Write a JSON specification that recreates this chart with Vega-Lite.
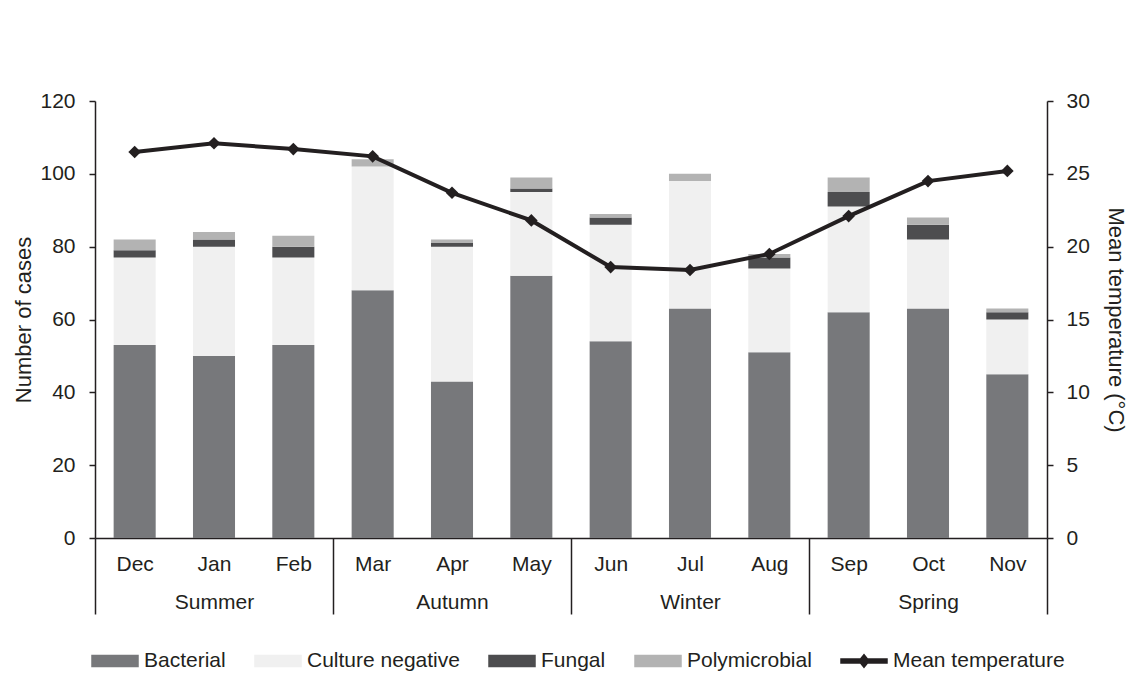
{
  "$schema": "https://vega.github.io/schema/vega-lite/v6.json",
  "width": 952,
  "height": 437,
  "autosize": {"type": "none"},
  "padding": {"left": 95, "top": 101, "right": 87, "bottom": 155},
  "background": "white",
  "config": {
    "font": "Liberation Sans",
    "view": {"stroke": null},
    "axis": {"labelFont": "Liberation Sans", "titleFont": "Liberation Sans", "labelColor": "#231f20", "titleColor": "#231f20", "titleFontWeight": "normal", "grid": false, "domainColor": "#231f20", "tickColor": "#231f20", "domainWidth": 1.5, "tickWidth": 1.5}
  },
  "datasets": {
    "cases": [
      {"month": "Dec", "type": "Bacterial", "n": 53}, {"month": "Dec", "type": "Culture negative", "n": 24}, {"month": "Dec", "type": "Fungal", "n": 2}, {"month": "Dec", "type": "Polymicrobial", "n": 3},
      {"month": "Jan", "type": "Bacterial", "n": 50}, {"month": "Jan", "type": "Culture negative", "n": 30}, {"month": "Jan", "type": "Fungal", "n": 2}, {"month": "Jan", "type": "Polymicrobial", "n": 2},
      {"month": "Feb", "type": "Bacterial", "n": 53}, {"month": "Feb", "type": "Culture negative", "n": 24}, {"month": "Feb", "type": "Fungal", "n": 3}, {"month": "Feb", "type": "Polymicrobial", "n": 3},
      {"month": "Mar", "type": "Bacterial", "n": 68}, {"month": "Mar", "type": "Culture negative", "n": 34}, {"month": "Mar", "type": "Fungal", "n": 0}, {"month": "Mar", "type": "Polymicrobial", "n": 2},
      {"month": "Apr", "type": "Bacterial", "n": 43}, {"month": "Apr", "type": "Culture negative", "n": 37}, {"month": "Apr", "type": "Fungal", "n": 1}, {"month": "Apr", "type": "Polymicrobial", "n": 1},
      {"month": "May", "type": "Bacterial", "n": 72}, {"month": "May", "type": "Culture negative", "n": 23}, {"month": "May", "type": "Fungal", "n": 1}, {"month": "May", "type": "Polymicrobial", "n": 3},
      {"month": "Jun", "type": "Bacterial", "n": 54}, {"month": "Jun", "type": "Culture negative", "n": 32}, {"month": "Jun", "type": "Fungal", "n": 2}, {"month": "Jun", "type": "Polymicrobial", "n": 1},
      {"month": "Jul", "type": "Bacterial", "n": 63}, {"month": "Jul", "type": "Culture negative", "n": 35}, {"month": "Jul", "type": "Fungal", "n": 0}, {"month": "Jul", "type": "Polymicrobial", "n": 2},
      {"month": "Aug", "type": "Bacterial", "n": 51}, {"month": "Aug", "type": "Culture negative", "n": 23}, {"month": "Aug", "type": "Fungal", "n": 3}, {"month": "Aug", "type": "Polymicrobial", "n": 1},
      {"month": "Sep", "type": "Bacterial", "n": 62}, {"month": "Sep", "type": "Culture negative", "n": 29}, {"month": "Sep", "type": "Fungal", "n": 4}, {"month": "Sep", "type": "Polymicrobial", "n": 4},
      {"month": "Oct", "type": "Bacterial", "n": 63}, {"month": "Oct", "type": "Culture negative", "n": 19}, {"month": "Oct", "type": "Fungal", "n": 4}, {"month": "Oct", "type": "Polymicrobial", "n": 2},
      {"month": "Nov", "type": "Bacterial", "n": 45}, {"month": "Nov", "type": "Culture negative", "n": 15}, {"month": "Nov", "type": "Fungal", "n": 2}, {"month": "Nov", "type": "Polymicrobial", "n": 1}
    ],
    "temp": [
      {"month": "Dec", "temp": 26.5}, {"month": "Jan", "temp": 27.1}, {"month": "Feb", "temp": 26.7},
      {"month": "Mar", "temp": 26.2}, {"month": "Apr", "temp": 23.7}, {"month": "May", "temp": 21.8},
      {"month": "Jun", "temp": 18.6}, {"month": "Jul", "temp": 18.4}, {"month": "Aug", "temp": 19.5},
      {"month": "Sep", "temp": 22.1}, {"month": "Oct", "temp": 24.5}, {"month": "Nov", "temp": 25.2}
    ]
  },
  "layer": [
    {
      "data": {"name": "cases"},
      "mark": {"type": "bar", "width": {"band": 0.53}},
      "encoding": {
        "x": {
          "field": "month", "type": "nominal",
          "sort": ["Dec", "Jan", "Feb", "Mar", "Apr", "May", "Jun", "Jul", "Aug", "Sep", "Oct", "Nov"],
          "scale": {"paddingInner": 0, "paddingOuter": 0},
          "axis": {
            "title": null,
            "labelAngle": 0,
            "labelFontSize": 21,
            "labelOverlap": false,
            "labelLineHeight": 38,
            "labelPadding": -61,
            "tickBand": "extent",
            "tickSize": 76,
            "tickColor": {"condition": {"test": "datum.extra || indexof(['Feb','May','Aug','Nov'], datum.value) >= 0", "value": "#231f20"}, "value": "transparent"},
            "labelExpr": "datum.value == 'Jan' ? ['Jan','Summer'] : datum.value == 'Apr' ? ['Apr','Autumn'] : datum.value == 'Jul' ? ['Jul','Winter'] : datum.value == 'Oct' ? ['Oct','Spring'] : datum.label"
          }
        },
        "y": {
          "field": "n", "type": "quantitative", "stack": "zero",
          "scale": {"domain": [0, 120], "nice": false},
          "axis": {"title": "Number of cases", "titleFontSize": 22, "labelFontSize": 21, "values": [0, 20, 40, 60, 80, 100, 120], "tickSize": 6, "labelPadding": 14, "titlePadding": 4}
        },
        "order": {"field": "type", "type": "nominal", "sort": "ascending"},
        "color": {
          "field": "type", "type": "nominal",
          "scale": {"domain": ["Bacterial", "Culture negative", "Fungal", "Polymicrobial", "Mean temperature"], "range": ["#77787b", "#f0f0f0", "#4d4d4f", "#b3b3b3", "#231f20"]},
          "legend": {
            "title": null,
            "orient": "none",
            "direction": "horizontal",
            "legendX": -4,
            "legendY": 536,
            "labelFontSize": 21,
            "labelColor": "#231f20",
            "labelFont": "Liberation Sans",
            "labelLimit": 400,
            "symbolSize": 2116,
            "labelOffset": 5,
            "columnPadding": 26,
            "encode": {
              "symbols": {
                "update": {
                  "shape": {"signal": "datum.value === 'Mean temperature' ? 'M-1,-0.09L1,-0.09L1,0.09L-1,0.09Z M-0.22,0L0,-0.27L0.22,0L0,0.27Z' : 'M-1,-0.24L1,-0.24L1,0.24L-1,0.24Z'"},
                  "fill": {"scale": "color", "field": "value"},
                  "stroke": {"value": "transparent"},
                  "opacity": {"value": 1},
                  "fillOpacity": {"value": 1}
                }
              }
            }
          }
        }
      }
    },
    {
      "data": {"name": "temp"},
      "mark": {"type": "line", "strokeWidth": 4, "point": {"shape": "diamond", "size": 160, "filled": true, "fill": "#231f20", "opacity": 1}},
      "encoding": {
        "x": {"field": "month", "type": "nominal", "sort": ["Dec", "Jan", "Feb", "Mar", "Apr", "May", "Jun", "Jul", "Aug", "Sep", "Oct", "Nov"], "title": null},
        "y": {
          "field": "temp", "type": "quantitative",
          "scale": {"domain": [0, 30], "nice": false},
          "axis": {"orient": "right", "title": "Mean temperature (°C)", "titleFontSize": 22, "labelFontSize": 21, "values": [0, 5, 10, 15, 20, 25, 30], "tickSize": 6, "labelPadding": 13, "titlePadding": 14}
        },
        "color": {"datum": "Mean temperature", "type": "nominal"}
      }
    }
  ],
  "resolve": {"scale": {"y": "independent"}}
}
